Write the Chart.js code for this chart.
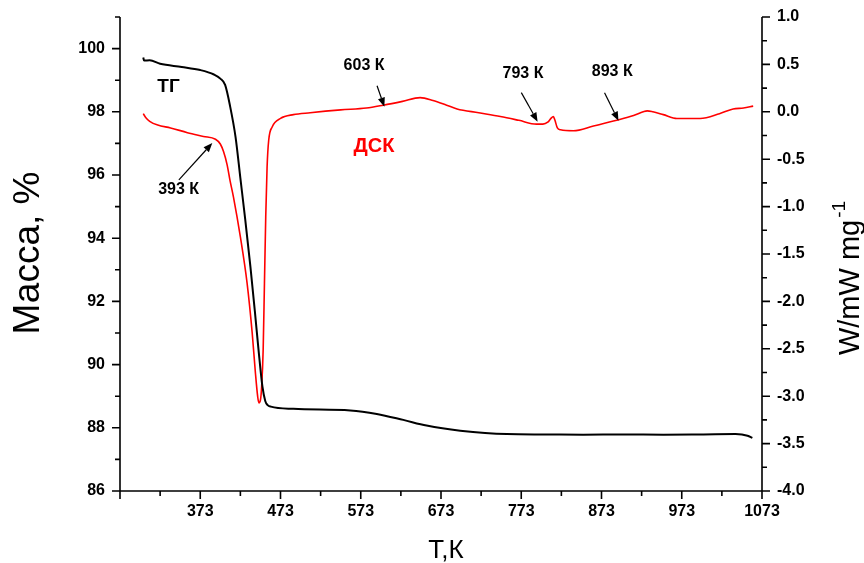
<!DOCTYPE html>
<html><head><meta charset="utf-8">
<script src="https://cdn.jsdelivr.net/npm/chart.js@4.4.1/dist/chart.umd.min.js"></script>
<style>html,body{margin:0;padding:0;background:#fff}#wrap{width:864px;height:563px;position:relative}</style>
</head><body><div id="wrap"><canvas id="c" width="864" height="563"></canvas></div>
<script>
// ---- data ----
const tgTemps = [302, 303, 310, 323, 350, 373, 390, 398, 404, 410, 417, 423, 429, 435.5, 441, 445.5, 450.5, 454, 457, 461, 489, 560, 593, 626, 655, 697, 755, 800, 850, 900, 950, 1000, 1040, 1055, 1061];
const tgMass  = [99.72, 99.62, 99.63, 99.52, 99.42, 99.32, 99.18, 99.05, 98.85, 98.2, 97.2, 95.9, 94.6, 93.1, 91.7, 90.5, 89.3, 88.85, 88.72, 88.67, 88.6, 88.55, 88.44, 88.25, 88.07, 87.91, 87.8, 87.79, 87.78, 87.79, 87.78, 87.79, 87.8, 87.75, 87.68];

const dscTemps  = [302, 305, 310, 320, 336, 357, 377, 392, 398, 402, 406.5, 410, 414.4, 423, 431.4, 437.7, 441.8, 444.5, 446, 448, 449.5, 451.4, 453, 454.6, 456.3, 458.3, 462.6, 473, 489, 510, 548, 580, 601, 625, 647, 663, 680, 693, 720, 747, 770, 792, 800, 806, 810, 813, 815, 818, 822, 838, 863, 892, 913, 925, 930, 937, 950, 967, 996, 1020, 1037, 1050, 1062];
const dscValues = [-0.02, -0.06, -0.10, -0.14, -0.17, -0.22, -0.26, -0.29, -0.34, -0.42, -0.56, -0.72, -0.90, -1.32, -1.81, -2.33, -2.76, -3.00, -3.07, -3.04, -2.90, -2.51, -1.81, -1.11, -0.58, -0.30, -0.16, -0.07, -0.03, -0.01, 0.02, 0.04, 0.07, 0.11, 0.15, 0.12, 0.07, 0.03, -0.01, -0.05, -0.09, -0.13, -0.13, -0.11, -0.07, -0.05, -0.09, -0.17, -0.19, -0.20, -0.15, -0.09, -0.04, 0.00, 0.01, 0.00, -0.03, -0.07, -0.07, -0.02, 0.03, 0.04, 0.06];

const xTickLabels = [373, 473, 573, 673, 773, 873, 973, 1073];
const massTickLabels = [86, 88, 90, 92, 94, 96, 98, 100];
const dscTickLabels = [-4, -3.5, -3, -2.5, -2, -1.5, -1, -0.5, 0, 0.5, 1];

const annotTexts = ['393 К', '603 К', '793 К', '893 К'];
const annotTemps = [388, 602.4, 793.4, 894.2];
const annotDsc   = [-0.33, 0.054, -0.104, -0.094];

const curveLabels = ['ТГ', 'ДСК'];

// ---- styles / layout (not data) ----
const FONT = '"Liberation Sans", Arial, sans-serif';
const annotLayout = [
  {dx: -33.4, dy: 36.7, lx: -33.7, ly: 46.7},
  {dx: -7.3, dy: -21, lx: -20.3, ly: -40.7},
  {dx: -16.3, dy: -29, lx: -14.6, ly: -48.4},
  {dx: -14, dy: -28, lx: -6.3, ly: -49.2}
];
const curveLabelLayout = [
  {x: 168.5, y: 87, color: '#000', size: 19},
  {x: 374, y: 146, color: '#ff0000', size: 20}
];

const decorations = {
  id: 'decorations',
  afterDatasetsDraw(chart) {
    const {ctx, chartArea: a, scales} = chart;
    const sx = scales.x, sy = scales.y, sy2 = scales.y2;
    const MAJ = 8, MIN = 5;
    ctx.save();
    ctx.strokeStyle = '#000';
    ctx.lineWidth = 1.6;
    ctx.beginPath();
    ctx.moveTo(a.left, a.bottom); ctx.lineTo(a.right, a.bottom);
    ctx.moveTo(a.left, a.top); ctx.lineTo(a.left, a.bottom);
    ctx.moveTo(a.right, a.top); ctx.lineTo(a.right, a.bottom);
    for (let i = 0; i <= 16; i++) {
      const v = 273 + i * 50;
      const px = sx.getPixelForValue(v);
      const len = (i % 2 === 0) ? MAJ : MIN;
      ctx.moveTo(px, a.bottom); ctx.lineTo(px, a.bottom + len);
    }
    for (let v = 86; v <= 101; v++) {
      const py = sy.getPixelForValue(v);
      const len = ((v - 86) % 2 === 0) ? MAJ : MIN;
      ctx.moveTo(a.left, py); ctx.lineTo(a.left - len, py);
    }
    for (let i = 0; i <= 20; i++) {
      const v = -4 + i * 0.25;
      const py = sy2.getPixelForValue(v);
      const len = (i % 2 === 0) ? MAJ : MIN;
      ctx.moveTo(a.right, py); ctx.lineTo(a.right + len, py);
    }
    ctx.stroke();

    ctx.fillStyle = '#000';
    ctx.lineWidth = 1.2;
    ctx.font = 'bold 16px ' + FONT;
    ctx.textAlign = 'center';
    ctx.textBaseline = 'middle';
    annotTexts.forEach((txt, i) => {
      const L = annotLayout[i];
      const tx = sx.getPixelForValue(annotTemps[i]);
      const ty = sy2.getPixelForValue(annotDsc[i]);
      const fx = tx + L.dx, fy = ty + L.dy;
      const ang = Math.atan2(ty - fy, tx - fx);
      const head = 9, hw = 3.6;
      const bx = tx - head * Math.cos(ang), by = ty - head * Math.sin(ang);
      ctx.beginPath();
      ctx.moveTo(fx, fy); ctx.lineTo(bx, by); ctx.stroke();
      ctx.beginPath();
      ctx.moveTo(tx, ty);
      ctx.lineTo(bx + hw * Math.sin(ang), by - hw * Math.cos(ang));
      ctx.lineTo(bx - hw * Math.sin(ang), by + hw * Math.cos(ang));
      ctx.closePath(); ctx.fill();
      ctx.fillText(txt, tx + L.lx, ty + L.ly);
    });

    curveLabels.forEach((txt, i) => {
      const L = curveLabelLayout[i];
      ctx.fillStyle = L.color;
      ctx.font = 'bold ' + L.size + 'px ' + FONT;
      ctx.fillText(txt, L.x, L.y);
    });

    ctx.fillStyle = '#000';
    ctx.textBaseline = 'alphabetic';
    ctx.font = '26px ' + FONT;
    ctx.textAlign = 'center';
    ctx.fillText('Т,К', (a.left + a.right) / 2 + 5, 558);

    ctx.save();
    ctx.translate(39, 253);
    ctx.rotate(-Math.PI / 2);
    ctx.font = '37px ' + FONT;
    ctx.fillText('Масса, %', 0, 0);
    ctx.restore();

    ctx.save();
    ctx.translate(859, 278);
    ctx.rotate(-Math.PI / 2);
    ctx.font = '29px ' + FONT;
    const main = 'W/mW mg';
    const wMain = ctx.measureText(main).width;
    ctx.font = '19px ' + FONT;
    const sup = '-1';
    const wSup = ctx.measureText(sup).width;
    const start = -(wMain + wSup + 2) / 2;
    ctx.textAlign = 'left';
    ctx.font = '29px ' + FONT;
    ctx.fillText(main, start, 0);
    ctx.font = '19px ' + FONT;
    ctx.fillText(sup, start + wMain + 2, -14);
    ctx.restore();

    ctx.restore();
  }
};

const tickFont = {family: FONT, size: 16, weight: 'bold'};
const noPad = s => { s.paddingTop = 0; s.paddingBottom = 0; s.paddingLeft = 0; s.paddingRight = 0; };

new Chart(document.getElementById('c'), {
  type: 'scatter',
  data: {
    datasets: [
      {
        label: 'ТГ',
        data: tgTemps.map((t, i) => ({x: t, y: tgMass[i]})),
        yAxisID: 'y',
        showLine: true,
        borderColor: '#000',
        borderWidth: 2,
        pointRadius: 0,
        cubicInterpolationMode: 'monotone',
        fill: false
      },
      {
        label: 'ДСК',
        data: dscTemps.map((t, i) => ({x: t, y: dscValues[i]})),
        yAxisID: 'y2',
        showLine: true,
        borderColor: '#ff0000',
        borderWidth: 1.6,
        pointRadius: 0,
        cubicInterpolationMode: 'monotone',
        fill: false
      }
    ]
  },
  options: {
    responsive: false,
    devicePixelRatio: 1,
    animation: false,
    layout: {padding: {top: 17, left: 0, right: 0, bottom: 0}},
    plugins: {legend: {display: false}, tooltip: {enabled: false}},
    scales: {
      x: {
        type: 'linear', position: 'bottom', min: 273, max: 1073,
        afterBuildTicks: s => { s.ticks = xTickLabels.map(v => ({value: v})); },
        afterFit: s => { s.height = 72; noPad(s); },
        grid: {display: false, drawTicks: false},
        border: {display: false},
        ticks: {font: tickFont, color: '#000', padding: 11, maxRotation: 0, autoSkip: false, callback: v => String(v)}
      },
      y: {
        type: 'linear', position: 'left', min: 86, max: 101,
        afterBuildTicks: s => { s.ticks = massTickLabels.map(v => ({value: v})); },
        afterFit: s => { s.width = 120; noPad(s); },
        grid: {display: false, drawTicks: false},
        border: {display: false},
        ticks: {font: tickFont, color: '#000', padding: 15, autoSkip: false, callback: v => String(v)}
      },
      y2: {
        type: 'linear', position: 'right', min: -4, max: 1,
        afterBuildTicks: s => { s.ticks = dscTickLabels.map(v => ({value: v})); },
        afterFit: s => { s.width = 102; noPad(s); },
        grid: {display: false, drawTicks: false},
        border: {display: false},
        ticks: {font: tickFont, color: '#000', padding: 15, autoSkip: false, callback: v => Number(v).toFixed(1)}
      }
    }
  },
  plugins: [decorations]
});
</script>
</body></html>
